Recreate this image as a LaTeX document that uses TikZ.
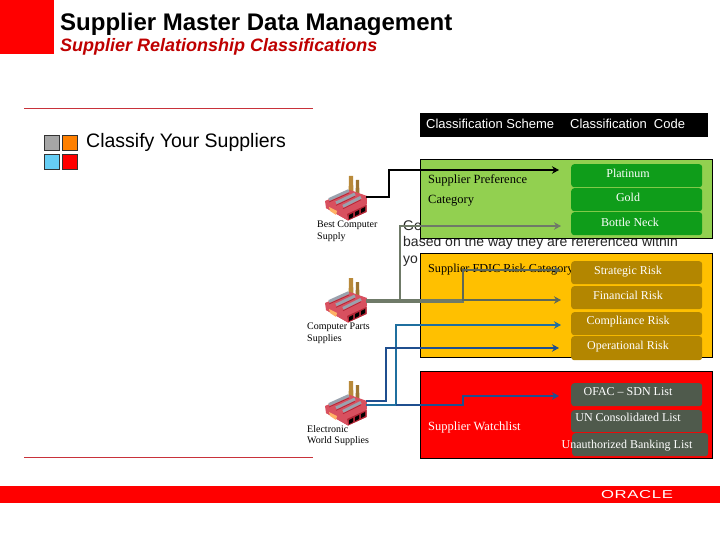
\documentclass[tikz,border=0pt]{standalone}
\usepackage{fontspec}
\usepackage{graphicx}
\setmainfont{Liberation Serif}
\newfontfamily\hvf{Liberation Sans}
\usetikzlibrary{arrows.meta}
\definecolor{orared}{HTML}{FF0000}
\definecolor{rulered}{HTML}{C8323A}
\definecolor{grn}{HTML}{92D050}
\definecolor{dgrn}{HTML}{0F9D1A}
\definecolor{gold}{HTML}{FFC000}
\definecolor{dgold}{HTML}{B38600}
\definecolor{slateg}{HTML}{4F5A4C}
\definecolor{grayln}{HTML}{6F7A68}
\definecolor{blue1}{HTML}{1F6F9F}
\definecolor{blue2}{HTML}{1F4F8F}
\definecolor{fpink}{HTML}{D8505F}
\definecolor{fdark}{HTML}{B02535}
\definecolor{ftan}{HTML}{B98A3A}
\definecolor{froof}{HTML}{9AA2AE}
\tikzset{
  x=1pt,y=-1pt,
  rowbox/.style={rounded corners=3pt,anchor=north west,inner sep=0pt},
  rowtxt/.style={text=white,inner sep=0pt,text height=10pt,text depth=2pt,font=\fontsize{12}{14}\selectfont},
  panel/.style={draw=black,line width=0.8pt,anchor=north west,inner sep=0pt},
  lab/.style={anchor=base west,inner sep=0pt,font=\fontsize{12.5}{14}\selectfont},
  flab/.style={anchor=north west,inner sep=0pt,align=left,font=\fontsize{10}{11.5}\selectfont},
  head/.style={anchor=base west,inner sep=0pt,font=\hvf\fontsize{13}{15}\selectfont,text=white},
  bg/.style={anchor=base west,inner sep=0pt,font=\hvf\fontsize{14}{16}\selectfont,text=black!85},
  sq/.style={draw=black!80,line width=1pt,minimum size=15pt,inner sep=0pt,anchor=north west},
  rulel/.style={draw=rulered,line width=0.8pt},
  conn/.style={line width=#1,-{Stealth[length=7pt,width=7.5pt]},line join=miter},
  factory/.pic={
    \fill[ftan] (29,6) -- (33,6) -- (33.5,25) -- (28.5,26) -- cycle;
    \fill[ftan!85!black] (36,10) -- (39,10) -- (39.5,26) -- (35.5,26) -- cycle;
    \fill[fpink] (5,31) -- (30,20) -- (47,26) -- (46.5,42) -- (28,50.5) -- (6,38) -- cycle;
    \foreach \s in {0,1,2}{
      \draw[froof,line width=3pt,dash pattern=on .8pt off .3pt] (9+\s*7,29.5+\s*3.4) -- (29+\s*6,20.5+\s*3.4);
      \draw[fdark,line width=.7pt] (9+\s*7,32+\s*3.4) -- (29+\s*6,23+\s*3.4);
    }
    \fill[fdark] (27,44) -- (46.5,35) -- (46.5,42) -- (28,50.5) -- cycle;
    \fill[fpink] (6,34) -- (27,44) -- (28,50.5) -- (6,38) -- cycle;
    \fill[orange!60!white] (9,37) -- (17,41) -- (16,45) -- (10,41) -- cycle;
    \fill[black] (29,45) -- (33,43) -- (33,47) -- (29,49) -- cycle;
    \fill[black] (35,42) -- (39,40) -- (39,44) -- (35,46) -- cycle;
    \fill[black] (41,39) -- (45,37) -- (45,41) -- (41,43) -- cycle;
  }
}
\newcommand{\fs}[1]{\fontsize{#1}{#1}\selectfont}
\begin{document}
\begin{tikzpicture}
\useasboundingbox (0,0) rectangle (720,540);
\fill[white] (0,0) rectangle (720,540);
% header
\node[fill=orared,minimum size=54pt,inner sep=0pt,anchor=north west] (redsq) at (0,0) {};
\node[anchor=base west,inner sep=0pt,font=\hvf\bfseries\fs{24}] (title) at (60,31) {Supplier Master Data Management};
\node[anchor=base west,inner sep=0pt,text=red!75!black,font=\hvf\bfseries\itshape\fs{18}] (sub) at (60,52) {Supplier Relationship Classifications};
\draw[rulel] (24,108) -- (313,108);
\draw[rulel] (24,457) -- (313,457);
% bullet
\node[sq,fill=gray!70] (s1) at (43.5,135) {};
\node[sq,fill=orange] (s2) at (62,135) {};
\node[sq,fill=cyan!60] (s3) at (43.5,154) {};
\node[sq,fill=red] (s4) at (62,154) {};
\node[anchor=base west,inner sep=0pt,font=\hvf\fs{19.5}] (cl) at (86,148) {Classify Your Suppliers};
% text behind panels
\node[bg] (t1) at (403,230) {Ge};
\node[bg] (t2) at (403,247) {based on the way they are referenced within};
\node[bg] (t3) at (403,263) {yo};
% top header
\node[fill=black,minimum width=288pt,minimum height=24pt,inner sep=0pt,anchor=north west] (hd) at (420,113) {};
\node[head] (h1) at (426,129) {Classification Scheme};
\node[head] (h2) at (570,129) {Classification\ \ Code};
% panels
\node[panel,fill=grn,minimum width=292pt,minimum height=79pt] (pg) at (420,159) {};
\node[panel,fill=gold,minimum width=292pt,minimum height=104pt] (po) at (420,253) {};
\node[panel,fill=red,minimum width=292pt,minimum height=87pt] (pr) at (420,371) {};
\node[lab] (l1) at (428,184) {Supplier Preference};
\node[lab] (l2) at (428,204) {Category};
\node[lab] (l3) at (428,272) {\fontsize{12.2}{14}\selectfont Supplier FDIC Risk Category};
\node[lab,text=white] (l4) at (428,430) {Supplier Watchlist};
% rows
\foreach \n/\y/\h/\c in {
  a/164/23/dgrn,b/188/23/dgrn,c/212/23/dgrn,
  d/261/23/dgold,e/286/23/dgold,f/312/23/dgold,g/336/24/dgold,
  h/383/23/slateg,i/410/22/slateg}
  {\node[rowbox,fill=\c,minimum width=131pt,minimum height=\h pt] (r\n) at (571,\y) {};}
\node[rowbox,fill=slateg,minimum width=136pt,minimum height=23pt] (rj) at (572,433) {};
\node[rowtxt] (ta) at (628,174) {Platinum};
\node[rowtxt] (tb) at (628,198) {Gold};
\node[rowtxt] (tc) at (630,222) {Bottle Neck};
\node[rowtxt] (td) at (628,270) {Strategic Risk};
\node[rowtxt] (te) at (628,295) {Financial Risk};
\node[rowtxt] (tf) at (628,320) {Compliance Risk};
\node[rowtxt] (tg) at (628,345) {Operational Risk};
\node[rowtxt] (th) at (628,391) {OFAC – SDN List};
\node[rowtxt] (ti) at (628,417) {UN Consolidated List};
\node[rowtxt] (tj) at (627,444) {Unauthorized Banking List};
% factories
\pic at (320,170) {factory};
\pic at (320,272) {factory};
\pic at (320,375) {factory};
\node[flab] (fl1) at (317,221) {Best Computer\\Supply};
\node[flab] (fl2) at (307,323) {Computer Parts\\Supplies};
\node[flab] (fl3) at (307,425) {Electronic\\World Supplies};
% connector anchors
\coordinate (f1) at (366,197);
\coordinate (f2) at (366,301);
\coordinate (f3a) at (366,400.5);
\coordinate (f3b) at (366,405);
\coordinate (ea) at (559,170);
\coordinate (ec) at (561,226);
\coordinate (ed) at (561,270);
\coordinate (ee) at (561,300);
\coordinate (ef) at (561,325);
\coordinate (eg) at (559,348);
\coordinate (eh) at (559,396);
% connectors
\draw[conn=2.2pt,black] (f1) -- (389,197) -- (389,170) -- (ea);
\draw[grayln,line width=4pt] (f2) -- (464,301);
\draw[conn=2pt,grayln] (400,301) -- (400,226) -- (ec);
\draw[conn=2pt,grayln!85!black] (463,301) -- (463,270) -- (ed);
\draw[conn=2pt,grayln!85!black] (463,300) -- (ee);
\draw[conn=2pt,blue1] (f3b) -- (396,405) -- (396,325) -- (ef);
\draw[conn=2pt,blue2] (f3a) -- (386,400.5) -- (386,348) -- (eg);
\draw[conn=2pt,blue2] (396,405) -- (463,405) -- (463,396) -- (eh);
% footer
\node[fill=orared,minimum width=720pt,minimum height=17pt,inner sep=0pt,anchor=north west] (ft) at (0,486) {};
\node[text=white,inner sep=0pt,font=\hvf\fs{11.5}] (ora) at (637,495) {\scalebox{1.45}[1]{\addfontfeature{LetterSpace=4}ORACLE}};
\end{tikzpicture}
\end{document}
